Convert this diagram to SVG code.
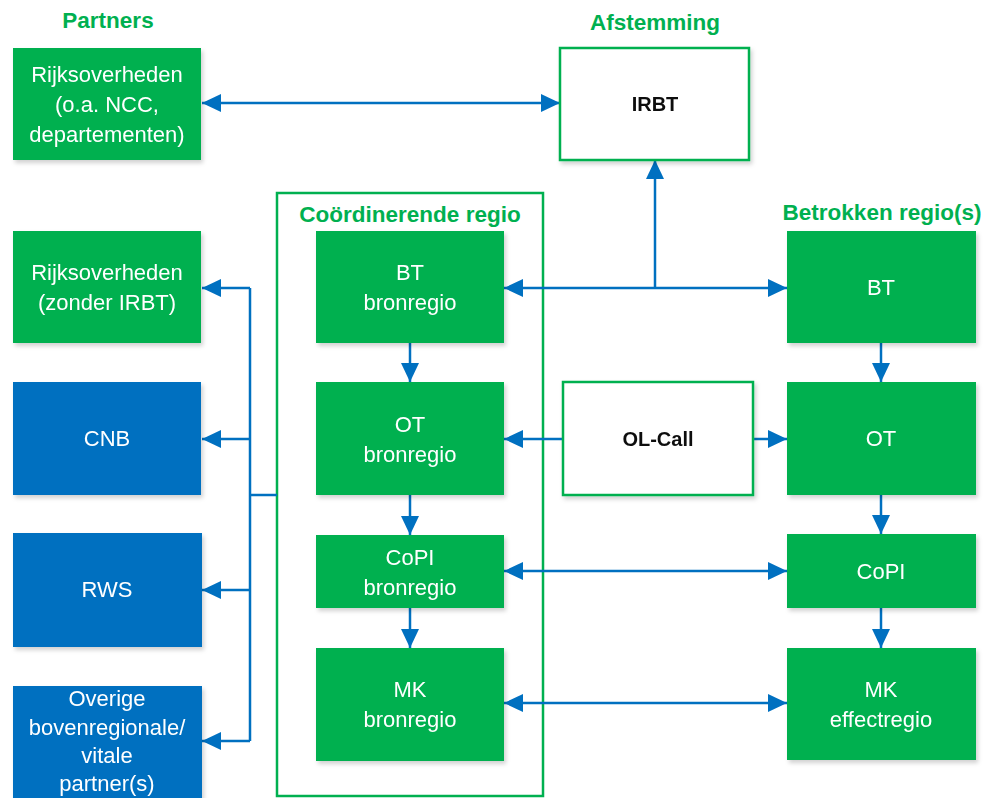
<svg xmlns="http://www.w3.org/2000/svg" width="989" height="798" viewBox="0 0 989 798">
<style>
.g{fill:#00B050}
.b{fill:#0070C0}
.w{fill:#fff;stroke:#00B050;stroke-width:2.5}
.t{font-family:"Liberation Sans",Arial,sans-serif;font-size:22px;fill:#fff;text-anchor:middle}
.k{font-family:"Liberation Sans",Arial,sans-serif;font-size:20px;font-weight:bold;fill:#111;text-anchor:middle}
.h{font-family:"Liberation Sans",Arial,sans-serif;font-size:22.5px;font-weight:bold;fill:#00B050;text-anchor:middle}
.c{fill:none;stroke:#0070C0;stroke-width:2.5}
.e{marker-end:url(#ah)}
.s{marker-start:url(#ah)}
</style>
<defs>
<marker id="ah" markerUnits="userSpaceOnUse" markerWidth="19" markerHeight="18" refX="19" refY="9" orient="auto-start-reverse" viewBox="0 0 19 18">
<path d="M0,0 L19,9 L0,18 z" fill="#0070C0"/>
</marker>
<filter id="sh" x="-5%" y="-5%" width="115%" height="115%">
<feDropShadow dx="2" dy="3" stdDeviation="2" flood-color="#000" flood-opacity="0.18"/>
</filter>
</defs>

<g id="headers">
<text class="h" x="108" y="28">Partners</text>
<text class="h" x="655" y="30">Afstemming</text>
<text class="h" x="882" y="220">Betrokken regio(s)</text>
</g>

<g id="coordinerende-regio">
<rect x="277" y="193" width="266" height="603" fill="none" stroke="#00B050" stroke-width="2.5"/>
<text class="h" x="410" y="222">Coördinerende regio</text>
</g>

<g id="connectors">
<line class="c s e" x1="202" y1="103" x2="560" y2="103"/>
<line class="c s e" x1="504" y1="288" x2="787" y2="288"/>
<line class="c e" x1="655" y1="288" x2="655" y2="160"/>
<polyline class="c" points="277,495 250,495"/>
<line class="c" x1="250" y1="288" x2="250" y2="741"/>
<line class="c e" x1="250" y1="288" x2="202" y2="288"/>
<line class="c e" x1="250" y1="439" x2="202" y2="439"/>
<line class="c e" x1="250" y1="590" x2="202" y2="590"/>
<line class="c e" x1="250" y1="741" x2="202" y2="741"/>
<line class="c e" x1="410" y1="343" x2="410" y2="382"/>
<line class="c e" x1="410" y1="495" x2="410" y2="535"/>
<line class="c e" x1="410" y1="608" x2="410" y2="648"/>
<line class="c e" x1="881" y1="343" x2="881" y2="382"/>
<line class="c e" x1="881" y1="495" x2="881" y2="534"/>
<line class="c e" x1="881" y1="608" x2="881" y2="648"/>
<line class="c e" x1="563" y1="439" x2="504" y2="439"/>
<line class="c e" x1="753" y1="439" x2="787" y2="439"/>
<line class="c s e" x1="504" y1="571" x2="787" y2="571"/>
<line class="c s e" x1="504" y1="703" x2="787" y2="703"/>
</g>

<g id="rijks-ncc" filter="url(#sh)">
<rect class="g" x="13" y="48" width="188" height="112"/>
<text class="t" x="107" y="82">Rijksoverheden</text>
<text class="t" x="107" y="112">(o.a. NCC,</text>
<text class="t" x="107" y="142">departementen)</text>
</g>

<g id="irbt" filter="url(#sh)">
<rect class="w" x="560" y="48" width="189" height="112"/>
<text class="k" x="655" y="111">IRBT</text>
</g>

<g id="rijks-zonder" filter="url(#sh)">
<rect class="g" x="13" y="231" width="188" height="112"/>
<text class="t" x="107" y="280">Rijksoverheden</text>
<text class="t" x="107" y="310">(zonder IRBT)</text>
</g>

<g id="cnb" filter="url(#sh)">
<rect class="b" x="13" y="382" width="188" height="113"/>
<text class="t" x="107" y="446">CNB</text>
</g>

<g id="rws" filter="url(#sh)">
<rect class="b" x="13" y="533" width="189" height="114"/>
<text class="t" x="107" y="597">RWS</text>
</g>

<g id="overige" filter="url(#sh)">
<rect class="b" x="13" y="686" width="189" height="120"/>
<text class="t" x="107" y="706">Overige</text>
<text class="t" x="107" y="735">bovenregionale/</text>
<text class="t" x="107" y="763">vitale</text>
<text class="t" x="107" y="791">partner(s)</text>
</g>

<g id="bt-bron" filter="url(#sh)">
<rect class="g" x="316" y="231" width="188" height="112"/>
<text class="t" x="410" y="280">BT</text>
<text class="t" x="410" y="310">bronregio</text>
</g>

<g id="ot-bron" filter="url(#sh)">
<rect class="g" x="316" y="382" width="188" height="113"/>
<text class="t" x="410" y="432">OT</text>
<text class="t" x="410" y="462">bronregio</text>
</g>

<g id="copi-bron" filter="url(#sh)">
<rect class="g" x="316" y="535" width="188" height="73"/>
<text class="t" x="410" y="565">CoPI</text>
<text class="t" x="410" y="595">bronregio</text>
</g>

<g id="mk-bron" filter="url(#sh)">
<rect class="g" x="316" y="648" width="188" height="113"/>
<text class="t" x="410" y="697">MK</text>
<text class="t" x="410" y="727">bronregio</text>
</g>

<g id="ol-call" filter="url(#sh)">
<rect class="w" x="563" y="382" width="190" height="113"/>
<text class="k" x="658" y="446">OL-Call</text>
</g>

<g id="bt" filter="url(#sh)">
<rect class="g" x="787" y="231" width="189" height="112"/>
<text class="t" x="881" y="295">BT</text>
</g>

<g id="ot" filter="url(#sh)">
<rect class="g" x="787" y="382" width="189" height="113"/>
<text class="t" x="881" y="446">OT</text>
</g>

<g id="copi" filter="url(#sh)">
<rect class="g" x="787" y="534" width="189" height="74"/>
<text class="t" x="881" y="579">CoPI</text>
</g>

<g id="mk-effect" filter="url(#sh)">
<rect class="g" x="787" y="648" width="189" height="112"/>
<text class="t" x="881" y="697">MK</text>
<text class="t" x="881" y="727">effectregio</text>
</g>
</svg>
